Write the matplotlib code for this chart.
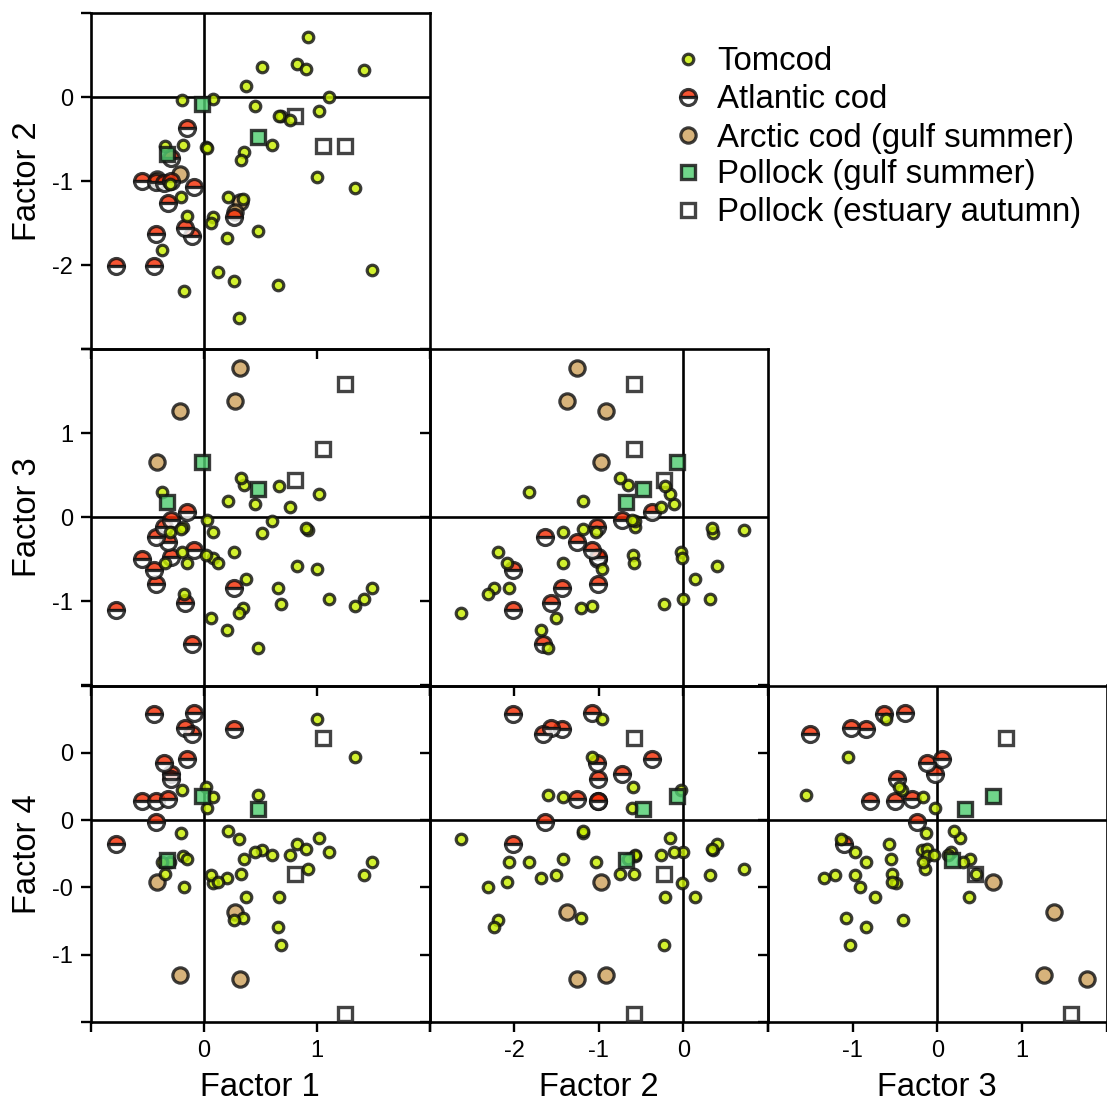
import matplotlib
matplotlib.use("Agg")
import matplotlib.pyplot as plt
from matplotlib.ticker import FixedLocator, FixedFormatter

plt.rcParams['font.family'] = ['Liberation Sans', 'DejaVu Sans']

# ---------------- data (factor scores per fish) ----------------
factor_names = ['Factor 1', 'Factor 2', 'Factor 3', 'Factor 4']

tomcod_f1 = [0.925, 0.522, 0.827, 0.910, 1.424, 0.379, -0.194, 0.081, 1.110, 0.454,
             0.687, 0.767, 1.018, -0.185, 0.021, 0.606, -0.337, 0.358, 0.334, 1.000,
             1.337, -0.296, -0.200, 0.218, 0.352, -0.143, 0.081, 0.066, 0.209, 0.484,
             -0.364, 1.490, 0.131, 0.266, 0.663, -0.170, 0.316, 0.030, 0.672]
tomcod_f2 = [0.714, 0.353, 0.397, 0.337, 0.317, 0.135, -0.032, -0.020, 0.000, -0.111,
             -0.230, -0.270, -0.163, -0.575, -0.599, -0.567, -0.587, -0.655, -0.754, -0.956,
             -1.083, -1.032, -1.190, -1.190, -1.214, -1.417, -1.425, -1.500, -1.679, -1.599,
             -1.825, -2.063, -2.087, -2.194, -2.242, -2.310, -2.627, -0.607, -0.222]
tomcod_f3 = [-0.147, -0.183, -0.574, -0.127, -0.972, -0.737, -0.418, -0.486, -0.972, 0.163,
             -1.032, 0.124, 0.271, -0.116, -0.450, -0.040, -0.538, 0.382, 0.462, -0.610,
             -1.056, -0.171, -0.135, 0.195, -1.076, -0.546, -0.171, -1.203, -1.335, -1.554,
             0.303, -0.841, -0.538, -0.410, -0.845, -0.912, -1.143, -0.028, 0.375]
tomcod_f4 = [-0.365, -0.220, -0.180, -0.212, -0.409, -0.574, 0.227, -0.470, -0.236, -0.236,
             -0.926, -0.263, -0.131, -0.270, 0.244, -0.256, -0.397, -0.286, -0.397, 0.749,
             0.466, -0.310, -0.095, -0.080, -0.729, -0.286, 0.170, -0.409, -0.433, 0.190,
             -0.310, -0.310, -0.463, -0.741, -0.791, -0.495, -0.138, 0.089, -0.574]

atlantic_f1 = [-0.143, -0.284, -0.543, -0.424, -0.349, -0.284, -0.081, -0.313, 0.269, -0.424,
               -0.164, -0.104, -0.776, -0.439]
atlantic_f2 = [-0.369, -0.726, -1.004, -1.012, -1.024, -1.004, -1.075, -1.262, -1.429, -1.631,
               -1.560, -1.659, -2.016, -2.016]
atlantic_f3 = [0.060, -0.028, -0.502, -0.797, -0.116, -0.474, -0.386, -0.299, -0.845, -0.239,
               -1.024, -1.502, -1.104, -0.625]
atlantic_f4 = [0.453, 0.342, 0.145, 0.145, 0.424, 0.305, 0.798, 0.158, 0.680, -0.015,
               0.687, 0.643, -0.175, 0.786]

arctic_f1 = [0.322, 0.275, -0.209, -0.409]
arctic_f2 = [-1.254, -1.373, -0.913, -0.976]
arctic_f3 = [1.769, 1.382, 1.263, 0.653]
arctic_f4 = [-1.180, -0.680, -1.148, -0.458]

pollock_gulf_f1 = [-0.015, 0.484, -0.319]
pollock_gulf_f2 = [-0.080, -0.478, -0.675]
pollock_gulf_f3 = [0.657, 0.331, 0.177]
pollock_gulf_f4 = [0.176, 0.079, -0.296]

pollock_est_f1 = [0.806, 1.060, 1.254]
pollock_est_f2 = [-0.232, -0.580, -0.580]
pollock_est_f3 = [0.446, 0.809, 1.586]
pollock_est_f4 = [-0.403, 0.610, -1.443]

factor_limits = [(-1, 2), (-3, 1), (-2, 2), (-1.5, 1)]
factor_ticks = [[-1, 0, 1, 2], [-3, -2, -1, 0, 1], [-2, -1, 0, 1, 2],
                [1, 0.5, 0, -0.5, -1, -1.5]]
factor_ticklabels = [['', '0', '1', ''], ['', '-2', '-1', '0', ''], ['', '-1', '0', '1', ''],
                     ['', '0', '0', '-0', '-1', '']]

# ---------------- styling ----------------
W, H = 1107, 1104
fig = plt.figure(figsize=(W / 100, H / 100), dpi=100)

col_edges = [90.5, 429.5, 768.0, 1106.5]
row_edges = [13.0, 349.0, 685.5, 1022.0]

groups = [
    dict(name='Arctic cod (gulf summer)',
         data=[arctic_f1, arctic_f2, arctic_f3, arctic_f4],
         style=dict(marker='o', ms=11.0, mfc='#cfa25e', mec='#111111', mew=2.3), z=3),
    dict(name='Atlantic cod',
         data=[atlantic_f1, atlantic_f2, atlantic_f3, atlantic_f4],
         style=dict(marker='o', ms=11.5, mfc='#f52e05', mec='#111111', mew=2.3,
                    fillstyle='top', markerfacecoloralt='white'), z=4),
    dict(name='Pollock (estuary autumn)',
         data=[pollock_est_f1, pollock_est_f2, pollock_est_f3, pollock_est_f4],
         style=dict(marker='s', ms=10.6, mfc='white', mec='#1a1a1a', mew=2.4), z=5),
    dict(name='Tomcod',
         data=[tomcod_f1, tomcod_f2, tomcod_f3, tomcod_f4],
         style=dict(marker='o', ms=7.6, mfc='#c8ee00', mec='#111111', mew=2.3), z=6),
    dict(name='Pollock (gulf summer)',
         data=[pollock_gulf_f1, pollock_gulf_f2, pollock_gulf_f3, pollock_gulf_f4],
         style=dict(marker='s', ms=10.0, mfc='#50cd70', mec='#111111', mew=2.4), z=7),
]
ALPHA = 0.82

for j in range(1, 4):          # y factor
    for i in range(0, j):      # x factor
        r, c = j - 1, i
        x0, x1 = col_edges[c], col_edges[c + 1]
        y0, y1 = row_edges[r], row_edges[r + 1]
        ax = fig.add_axes([x0 / W, 1 - y1 / H, (x1 - x0) / W, (y1 - y0) / H])
        ax.patch.set_visible(False)
        ax.set_xlim(*factor_limits[i])
        ax.set_ylim(*factor_limits[j])
        ax.axhline(0, color='black', lw=1.9, zorder=1.5)
        ax.axvline(0, color='black', lw=1.9, zorder=1.5)
        for g in groups:
            ax.plot(g['data'][i], g['data'][j], linestyle='none', alpha=ALPHA,
                    zorder=g['z'], **g['style'])
        ax.xaxis.set_major_locator(FixedLocator(factor_ticks[i]))
        ax.yaxis.set_major_locator(FixedLocator(factor_ticks[j]))
        xl = factor_ticklabels[i] if r == 2 else [''] * len(factor_ticks[i])
        yl = factor_ticklabels[j] if c == 0 else [''] * len(factor_ticks[j])
        ax.xaxis.set_major_formatter(FixedFormatter(xl))
        ax.yaxis.set_major_formatter(FixedFormatter(yl))
        ax.tick_params(direction='out', length=7.5, width=1.7, labelsize=17,
                       colors='black', top=False, right=False)
        ax.tick_params(axis='x', pad=5.5)
        ax.tick_params(axis='y', pad=5.0)
        for sp in ax.spines.values():
            sp.set_linewidth(1.9)
            sp.set_color('black')

# axis titles
col_centers = [(col_edges[k] + col_edges[k + 1]) / 2 for k in range(3)]
row_centers = [(row_edges[k] + row_edges[k + 1]) / 2 for k in range(3)]
for k in range(3):
    fig.text(col_centers[k] / W, 1 - 1096 / H, factor_names[k], ha='center',
             va='baseline', fontsize=23.5)
    fig.text(36 / W, 1 - row_centers[k] / H, factor_names[k + 1], ha='center',
             va='baseline', rotation=90, rotation_mode='anchor', fontsize=23.5)

# legend (manual, in pixel coordinates)
lax = fig.add_axes([0, 0, 1, 1])
lax.set_xlim(0, W)
lax.set_ylim(H, 0)
lax.axis('off')
legend_order = ['Tomcod', 'Atlantic cod', 'Arctic cod (gulf summer)',
                'Pollock (gulf summer)', 'Pollock (estuary autumn)']
legend_y = [59, 97, 135, 172, 210]
gmap = {g['name']: g for g in groups}
for name, yy in zip(legend_order, legend_y):
    g = gmap[name]
    lax.plot([688], [yy], linestyle='none', alpha=ALPHA, **g['style'])
    lax.text(717, yy + 11.5, name, ha='left', va='baseline', fontsize=23.8)

fig.savefig('out.png', dpi=100)
